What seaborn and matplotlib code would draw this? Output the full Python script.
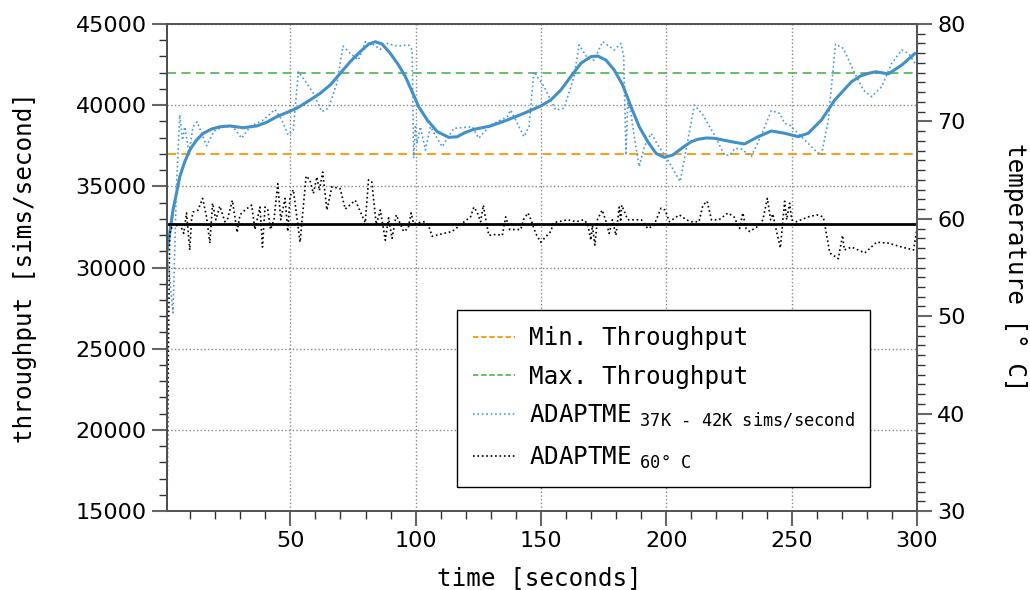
import matplotlib
matplotlib.use("Agg")
import matplotlib.pyplot as plt
from matplotlib.lines import Line2D
import seaborn as sns
import pandas as pd

# ---------------- data ----------------
MIN_THROUGHPUT = 37000
MAX_THROUGHPUT = 42000
TEMP_LINE = 59.5

raw_time = [0.8, 2.0, 3.2, 4.6, 5.9, 7.0, 7.9, 9.6, 11.2, 12.8, 16.6, 19.6, 23.2, 27.0,
            30.6, 33.9, 39.2, 43.9, 46.6, 49.2, 51.2, 53.2, 56.6, 59.2, 62.6, 65.2, 68.6,
            71.0, 73.9, 77.2, 79.9, 82.5, 85.9, 88.6, 92.6, 97.2, 98.6, 99.2, 99.9, 100.6,
            101.9, 103.9, 105.9, 110.6, 115.2, 122.6, 125.2, 129.9, 136.6, 137.9, 143.2,
            145.2, 147.2, 151.2, 155.9, 159.2, 163.2, 165.2, 168.6, 171.2, 174.6, 179.2,
            181.9, 183.0, 183.9, 184.6, 185.9, 187.2, 189.2, 191.2, 193.9, 196.6, 200.6,
            205.5, 211.2, 214.6, 219.2, 223.2, 225.5, 227.2, 230.0, 233.9, 237.9, 241.9,
            245.2, 247.2, 249.5, 251.2, 255.2, 259.2, 261.9, 264.6, 267.5, 270.6, 275.2,
            278.6, 281.9, 285.9, 289.9, 293.9, 296.6, 299.2]
raw_throughput = [31000, 29200, 27200, 35000, 39400, 37850, 38670, 37030, 38670, 38980,
                  37500, 38400, 38670, 38700, 37960, 38670, 39090, 39740, 39090, 38160,
                  38470, 42060, 41350, 40730, 39600, 39810, 41350, 43640, 43190, 42780,
                  43910, 43800, 43440, 43800, 43640, 43710, 43400, 36730, 38670, 37650,
                  38670, 37240, 38670, 37440, 38570, 38670, 37960, 38780, 39290, 39700,
                  38060, 38670, 42060, 41140, 39700, 39810, 41760, 43710, 42890, 42780,
                  43910, 43400, 43800, 42990, 36930, 40110, 39500, 38060, 36210, 37440,
                  38260, 37550, 36620, 35300, 40010, 39400, 38160, 36930, 36930, 37340,
                  37300, 36830, 38160, 39660, 39500, 38880, 38750, 38470, 37850, 37240,
                  36930, 39090, 43770, 43500, 41960, 40930, 40520, 41140, 42580, 43400,
                  43190, 42580]

smooth_time = [0.8, 1.9, 3.2, 4.6, 5.9, 7.9, 9.9, 12.6, 15.2, 18.6, 21.9, 25.9, 31.2,
               36.6, 40.6, 44.6, 48.6, 52.6, 57.9, 61.9, 65.9, 69.9, 73.9, 77.9, 81.2,
               83.9, 86.6, 89.9, 93.2, 95.9, 98.6, 101.2, 104.6, 108.6, 113.2, 116.5,
               119.5, 123.2, 129.9, 136.6, 143.2, 149.9, 153.9, 157.9, 161.9, 165.9,
               169.9, 172.6, 175.9, 179.2, 182.6, 185.9, 189.2, 192.6, 195.9, 199.2,
               202.6, 206.6, 209.9, 212.6, 216.0, 219.2, 225.9, 231.2, 236.6, 241.9,
               247.2, 252.6, 256.6, 261.9, 267.2, 273.9, 277.5, 280.6, 283.5, 288.6,
               293.9, 299.2]
smooth_throughput = [30970, 32110, 33540, 34570, 35590, 36520, 37240, 37850, 38260, 38530,
                     38670, 38720, 38610, 38720, 38950, 39290, 39550, 39810, 40320, 40730,
                     41240, 41960, 42680, 43300, 43750, 43910, 43770, 43190, 42470, 41760,
                     40830, 39910, 39090, 38370, 38020, 38050, 38300, 38510, 38720, 39090,
                     39500, 39950, 40320, 40930, 41760, 42580, 42990, 43030, 42780, 42170,
                     41240, 39910, 38670, 37750, 37030, 36790, 36930, 37400, 37750, 37900,
                     37980, 37960, 37750, 37610, 38060, 38410, 38270, 38060, 38270, 39090,
                     40320, 41450, 41800, 41960, 42060, 41930, 42470, 43190]

temp_time = [0.8, 1.3, 1.9, 3.2, 4.5, 5.9, 7.5, 8.6, 9.9, 10.6, 11.2, 13.2, 15.0, 16.6,
             17.9, 19.0, 20.3, 21.9, 23.9, 25.0, 26.9, 28.8, 29.9, 31.9, 34.6, 35.9, 37.9,
             38.9, 39.9, 41.0, 42.1, 43.5, 45.0, 46.2, 47.9, 49.0, 49.9, 51.2, 53.9, 56.3,
             57.8, 59.2, 60.6, 61.6, 62.9, 64.6, 66.6, 69.9, 71.9, 75.9, 79.9, 81.2, 82.5,
             84.3, 85.9, 87.9, 89.2, 90.6, 92.3, 95.2, 97.0, 98.2, 99.2, 103.2, 105.0,
             106.6, 111.2, 114.6, 117.9, 121.9, 123.2, 124.5, 125.9, 127.0, 128.0, 129.2,
             132.0, 134.6, 135.9, 137.5, 141.9, 143.0, 144.8, 146.0, 147.9, 149.9, 153.9,
             155.0, 160.6, 164.0, 167.0, 168.6, 169.2, 169.9, 170.5, 171.5, 172.5, 174.4,
             176.0, 177.2, 178.5, 179.9, 181.2, 181.8, 182.2, 184.6, 190.0, 192.6, 195.0,
             197.9, 199.5, 201.2, 205.2, 208.0, 209.9, 213.0, 214.6, 216.3, 218.0, 221.0,
             224.6, 227.0, 229.2, 230.5, 231.8, 233.2, 237.0, 238.5, 240.3, 241.6, 242.5,
             243.7, 245.5, 247.2, 248.0, 249.2, 250.0, 251.9, 256.6, 260.0, 262.6, 263.0,
             265.2, 268.6, 270.3, 271.0, 273.9, 279.2, 283.9, 288.6, 293.9, 298.6, 300.0]
temperature = [30.0, 45.0, 58.5, 59.5, 59.3, 59.5, 58.5, 60.6, 56.8, 59.9, 60.7, 60.9,
               62.1, 60.2, 57.5, 61.6, 59.9, 61.3, 59.7, 60.0, 61.9, 58.6, 60.4, 60.9, 61.4,
               58.9, 61.2, 57.1, 61.2, 61.0, 58.9, 59.9, 63.6, 59.9, 62.1, 58.7, 62.3, 63.0,
               57.6, 64.4, 64.0, 62.6, 64.3, 62.9, 64.8, 60.9, 63.3, 63.1, 61.0, 61.9, 59.6,
               64.0, 63.8, 59.4, 60.9, 57.8, 60.1, 58.0, 60.4, 58.7, 59.0, 60.6, 59.5, 59.7,
               59.4, 58.2, 58.5, 58.7, 59.4, 60.2, 61.2, 60.7, 59.7, 61.4, 59.9, 58.3, 58.4,
               58.3, 60.2, 58.9, 58.9, 59.9, 60.6, 59.9, 58.5, 57.6, 58.7, 59.6, 59.9, 59.7,
               59.9, 59.5, 58.7, 57.8, 59.3, 57.3, 59.9, 60.9, 59.7, 58.5, 59.9, 58.3, 61.2,
               59.7, 61.4, 59.9, 59.9, 59.0, 59.3, 61.1, 60.9, 59.7, 60.4, 59.9, 59.7, 59.7,
               61.4, 61.8, 59.9, 59.9, 60.6, 60.2, 59.0, 60.6, 59.0, 58.7, 59.3, 59.9, 62.1,
               59.9, 60.5, 59.0, 57.0, 61.8, 59.9, 61.6, 59.9, 59.7, 60.2, 60.4, 60.2, 59.7,
               56.5, 55.9, 58.3, 56.8, 57.1, 56.5, 57.6, 57.5, 57.1, 56.8, 59.0]

x_ticks = [50, 100, 150, 200, 250, 300]
y_ticks = [15000, 20000, 25000, 30000, 35000, 40000, 45000]
t_ticks = [30, 40, 50, 60, 70, 80]

legend_labels = [
    "Min. Throughput",
    "Max. Throughput",
    r"ADAPTME$_{\ \,\text{37K - 42K sims/second}}$",
    r"ADAPTME$_{\ \,\text{60° C}}$",
]

# ---------------- style ----------------
sns.set_style("ticks")
plt.rcParams["font.family"] = ["DejaVu Sans"]
plt.rcParams["mathtext.fontset"] = "custom"
plt.rcParams["mathtext.tt"] = "DejaVu Sans Mono"
plt.rcParams["mathtext.rm"] = "DejaVu Sans Mono"
plt.rcParams["text.color"] = "black"
plt.rcParams["axes.labelcolor"] = "black"

MONO = "DejaVu Sans Mono"
C_ORANGE = "#ff9500"
C_GREEN = "#5cb85c"
C_BLUE = "#4190c8"
C_BLUE_DOT = "#4a9ad6"

fig = plt.figure(figsize=(10.3, 5.9), dpi=100)
ax = fig.add_axes([0.1621, 0.1339, 0.7282, 0.8254])
ax2 = ax.twinx()

raw_df = pd.DataFrame({"time": raw_time, "throughput": raw_throughput})
smooth_df = pd.DataFrame({"time": smooth_time, "throughput": smooth_throughput})
temp_df = pd.DataFrame({"time": temp_time, "temperature": temperature})

ax.axhline(MIN_THROUGHPUT, color=C_ORANGE, linestyle=(0, (5, 3)), linewidth=1.3)
ax.axhline(MAX_THROUGHPUT, color=C_GREEN, linestyle=(0, (5, 3)), linewidth=1.3)
sns.lineplot(data=raw_df, x="time", y="throughput", ax=ax, color=C_BLUE_DOT,
             linestyle=":", linewidth=1.2, legend=False)
sns.lineplot(data=smooth_df, x="time", y="throughput", ax=ax, color=C_BLUE,
             linewidth=2.2, legend=False)
sns.lineplot(data=temp_df, x="time", y="temperature", ax=ax2, color="black",
             linestyle=":", linewidth=1.2, legend=False)
ax2.axhline(TEMP_LINE, color="black", linewidth=2)

ax.set_xlim(0.8, 300)
ax.set_ylim(15000, 45000)
ax2.set_ylim(30, 80)

ax.set_xticks(x_ticks)
ax.set_yticks(y_ticks)
ax2.set_yticks(t_ticks)
ax.xaxis.set_minor_locator(matplotlib.ticker.MultipleLocator(10))
ax.yaxis.set_minor_locator(matplotlib.ticker.MultipleLocator(1000))
ax2.yaxis.set_minor_locator(matplotlib.ticker.MultipleLocator(1))

ax.grid(True, which="major", linestyle=":", color="#888888", linewidth=1)
ax2.grid(False)

for a in (ax, ax2):
    a.tick_params(which="major", length=11, width=1.5, color="#666666",
                  labelsize=16, labelcolor="black", direction="out")
    a.tick_params(which="minor", length=6, width=1, color="#333333", direction="out")
    for s in a.spines.values():
        s.set_color("#555555")
        s.set_linewidth(1.3)
ax.spines["left"].set_color("black")

ax.set_xlabel("time [seconds]", fontsize=17.5, family=MONO)
ax.set_ylabel("throughput [sims/second]", fontsize=17.5, family=MONO)
ax2.set_ylabel("temperature [° C]", fontsize=17.5, family=MONO, rotation=270)
ax.xaxis.set_label_coords(0.497, -0.1376)
ax.yaxis.set_label_coords(-0.189, 0.5)
ax2.yaxis.set_label_coords(1.1307, 0.5)
ax.xaxis.label.set_va("center")
ax.yaxis.label.set_va("center")
ax2.yaxis.label.set_va("center")

handles = [
    Line2D([], [], color=C_ORANGE, linestyle=(0, (3, 1.5)), linewidth=1.3),
    Line2D([], [], color=C_GREEN, linestyle=(0, (3, 1.5)), linewidth=1.3),
    Line2D([], [], color=C_BLUE_DOT, linestyle=":", linewidth=1.2),
    Line2D([], [], color="black", linestyle=":", linewidth=1.2),
]
leg = ax2.legend(handles, legend_labels, loc="lower left", bbox_to_anchor=(0.3867, 0.0493),
                 prop={"family": MONO, "size": 17.5}, frameon=True, fancybox=False,
                 framealpha=1, edgecolor="black", handlelength=1.75, handletextpad=0.55,
                 labelspacing=0.6, borderpad=0.65, borderaxespad=0)
leg.get_frame().set_linewidth(1.0)

fig.savefig("out.png", dpi=100)
